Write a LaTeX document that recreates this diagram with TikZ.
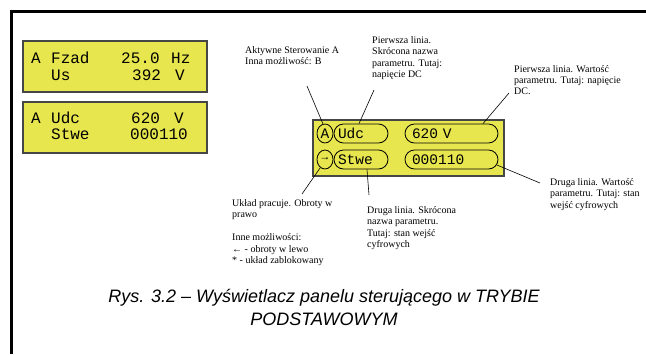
\documentclass[tikz,border=0pt]{standalone}
\usepackage{fontspec}
\setmainfont{Liberation Serif}
\newfontfamily\lcd{Liberation Mono}
\newfontfamily\capf{Liberation Sans}
\usetikzlibrary{shapes.geometric,calc}
\definecolor{lcdyellow}{RGB}{232,230,79}
\definecolor{lcdedge}{RGB}{70,70,70}
\tikzset{
  panel/.style={draw=lcdedge, line width=1.3pt, fill=lcdyellow},
  bigtxt/.style={anchor=base west, inner sep=0pt, font=\lcd\fontsize{16}{16}\selectfont},
  pill/.style={draw=black, line width=0.8pt, fill=lcdyellow, rounded corners=9.5pt,
    minimum height=19pt, inner ysep=0pt, align=left, text height=9.5pt, text depth=0pt,
    font=\lcd\fontsize{14.5}{14.5}\selectfont},
  ring/.style={draw=black, line width=0.8pt, fill=lcdyellow, ellipse, minimum width=16pt,
    minimum height=19pt, inner sep=0pt, font=\lcd\fontsize{14.5}{14.5}\selectfont},
  note/.style={anchor=north west, inner sep=0pt, align=left,
    font=\fontsize{10}{11.3}\selectfont},
  leader/.style={draw=black, line width=0.6pt},
  frameline/.style={draw=black, line width=3pt}
}
\begin{document}
\begin{tikzpicture}[x=1pt,y=-1pt]
\useasboundingbox (0,0) rectangle (646,354);
% frame
\draw[frameline] (11.3,354) -- (11.3,11) -- (646,11);
% left panels
\node[panel, minimum width=184pt, minimum height=51pt, inner sep=0pt] (p1) at (115,66.5) {};
\node[panel, minimum width=184pt, minimum height=51pt, inner sep=0pt] (p2) at (115,127.5) {};
\node[bigtxt] (p1a) at (31,63.3) {A};
\node[bigtxt] (p1b) at (51,63.3) {Fzad};
\node[bigtxt] (p1c) at (121,63.3) {25.0};
\node[bigtxt] (p1d) at (171,63.3) {Hz};
\node[bigtxt] (p1e) at (51,80) {Us};
\node[bigtxt] (p1f) at (132,80) {392};
\node[bigtxt] (p1g) at (175,80) {V};
\node[bigtxt] (p2a) at (31,123.3) {A};
\node[bigtxt] (p2b) at (51,123.3) {Udc};
\node[bigtxt] (p2c) at (131,123.3) {620};
\node[bigtxt] (p2d) at (174,123.3) {V};
\node[bigtxt] (p2e) at (51,139.5) {Stwe};
\node[bigtxt] (p2f) at (130,139.5) {000110};
% middle panel
\node[panel, minimum width=191pt, minimum height=56pt, inner sep=0pt] (pm) at (408.5,148) {};
\node[ring] (ra) at (325,133.5) {A};
\node[ring] (rb) at (325,159.5) {\raisebox{1pt}{\fontsize{11}{11}\selectfont →}};
\node[pill, minimum width=54pt, text width=46pt, inner xsep=4pt] (udc) at (361,133.5) {Udc};
\node[pill, minimum width=54pt, text width=46pt, inner xsep=4pt] (stwe) at (361,159.5) {Stwe};
\node[pill, minimum width=93pt, text width=79pt, inner xsep=7pt] (v620) at (451.5,133.5) {620 V};
\node[pill, minimum width=93pt, text width=79pt, inner xsep=7pt] (v000) at (451.5,159.5) {000110};
% annotations
\node[note] (n1) at (245,46.5) {Aktywne Sterowanie A\\Inna możliwość: B};
\node[note] (n2) at (372,36.5) {Pierwsza linia.\\Skrócona nazwa\\parametru. Tutaj:\\napięcie DC};
\node[note] (n3) at (514,65) {Pierwsza linia. Wartość\\parametru. Tutaj: napięcie\\DC.};
\node[note] (n4) at (232,199) {Układ pracuje. Obroty w\\prawo\\[12pt]Inne możliwości:\\← - obroty w lewo\\* - układ zablokowany};
\node[note] (n5) at (367,206.5) {Druga linia. Skrócona\\nazwa parametru.\\Tutaj: stan wejść\\cyfrowych};
\node[note] (n6) at (550,178.5) {Druga linia. Wartość\\parametru. Tutaj: stan\\wejść cyfrowych};
% leader ends
\coordinate (e1) at (307,86);
\coordinate (e2) at (374,90);
\coordinate (e3) at (509,93);
\coordinate (e4) at (302,194);
\coordinate (e5) at (369,195);
\coordinate (e6) at (540,183);
\draw[leader] (e1) -- (ra.102);
\draw[leader] (e2) -- ([xshift=-2pt]udc.north);
\draw[leader] (e3) -- ([xshift=31.5pt]v620.north);
\draw[leader] (e4) -- (rb.240);
\draw[leader] (e5) -- ([xshift=6pt]stwe.south);
\draw[leader] (e6) -- ([shift={(-1.5,5.5)}]v000.east);
% caption
\node[inner sep=0pt, align=center, font=\capf\itshape\fontsize{18}{23}\selectfont] (cap) at (324,307)
  {Rys. 3.2 – Wyświetlacz panelu sterującego w TRYBIE\\PODSTAWOWYM};
\end{tikzpicture}
\end{document}
